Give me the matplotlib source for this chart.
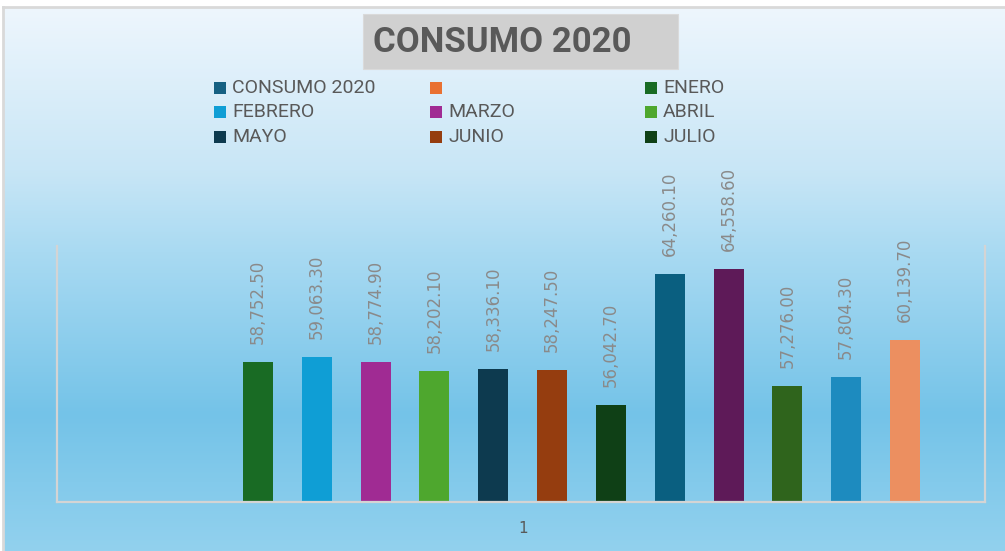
import matplotlib
matplotlib.use("Agg")
import matplotlib.pyplot as plt
import numpy as np
from matplotlib.colors import LinearSegmentedColormap
from matplotlib.patches import Rectangle

# ---- data ----
series_names = ["CONSUMO 2020", "", "ENERO", "FEBRERO", "MARZO", "ABRIL", "MAYO",
                "JUNIO", "JULIO", "AGOSTO", "SEPTIEMBRE", "OCTUBRE", "NOVIEMBRE", "DICIEMBRE"]
series_values = [None, None, 58752.50, 59063.30, 58774.90, 58202.10, 58336.10,
                 58247.50, 56042.70, 64260.10, 64558.60, 57276.00, 57804.30, 60139.70]
series_colors = ["#156082", "#E97132", "#196B24", "#0F9ED5", "#A02B93", "#4EA72E",
                 "#0D3A4F", "#953D0F", "#0F4016", "#0A5F80", "#5E1A58", "#2F641C",
                 "#1D8BBF", "#EC8F60"]
category_labels = ["1"]
legend_shown = 9
title_text = "CONSUMO 2020"

W, H = 1005, 551
fig = plt.figure(figsize=(W / 100, H / 100), dpi=100)
fig.patch.set_facecolor("white")

# background gradient (chart area)
bg = fig.add_axes([3 / W, 0, 1 - 3 / W, 1 - 7 / H], zorder=0)
cmap = LinearSegmentedColormap.from_list(
    "bg", [(0.0, "#eef6fd"), (0.3, "#c8e6f6"), (0.45, "#a9daf2"),
           (0.75, "#74c3e8"), (1.0, "#92d1ee")])
grad = np.linspace(0, 1, 256).reshape(-1, 1)
bg.imshow(grad, aspect="auto", cmap=cmap, extent=[0, 1, 0, 1], origin="upper")
bg.set_xlim(0, 1)
bg.set_ylim(0, 1)
for s in ["left", "top"]:
    bg.spines[s].set_color("#d9d9d9")
    bg.spines[s].set_linewidth(2)
for s in ["right", "bottom"]:
    bg.spines[s].set_visible(False)
bg.set_xticks([])
bg.set_yticks([])

# main axes
ax = fig.add_axes([57 / W, 1 - 502 / H, (985 - 57) / W, (502 - 246) / H], zorder=1)
ax.patch.set_alpha(0)
n = len(series_names)
width = 0.51
for i, (name, val, col) in enumerate(zip(series_names, series_values, series_colors)):
    if val is None:
        continue
    ax.bar(i, val, width=width, color=col, zorder=2)
    ax.annotate(f"{val:,.2f}", xy=(i, val), xytext=(0, 13), textcoords="offset points",
                rotation=90, ha="center", va="bottom", fontsize=12, color="#8a8a8a",
                family="DejaVu Sans")

ax.set_ylim(50000, 66000)
ax.set_xlim(-1.418, 14.36)
ax.set_yticks([])
ax.set_xticks([(n - 1) / 2])
ax.set_xticklabels(category_labels, fontsize=11, color="#595959")
ax.tick_params(axis="x", length=0, pad=14)
ax.spines["top"].set_visible(False)
for s in ["left", "right", "bottom"]:
    ax.spines[s].set_color("#d4d4d4")
    ax.spines[s].set_linewidth(1.6)

# title box
fig.patches.append(Rectangle((363 / W, 1 - 69 / H), (678 - 363) / W, (69 - 14) / H,
                             transform=fig.transFigure, facecolor="#d0d0d0",
                             edgecolor="#dadada", lw=0.8, zorder=3))
fig.text(373 / W, 1 - 43 / H, title_text, fontsize=25, fontweight="bold",
         color="#595959", ha="left", va="center", family="Roboto", zorder=4)

# legend (first entries, row-wise, 3 columns)
col_x = [214, 430, 645]
row_y = [88, 112, 137]
for k in range(legend_shown):
    r, c = divmod(k, 3)
    x0 = col_x[c]
    y0 = row_y[r]
    fig.patches.append(Rectangle((x0 / W, 1 - (y0 + 6) / H), 12 / W, 12 / H,
                                 transform=fig.transFigure,
                                 facecolor=series_colors[k], edgecolor="none", zorder=3))
    fig.text((x0 + 18) / W, 1 - y0 / H, series_names[k], fontsize=14,
             color="#595959", ha="left", va="center", family="Roboto", zorder=4)

fig.savefig("out.png", dpi=100)
